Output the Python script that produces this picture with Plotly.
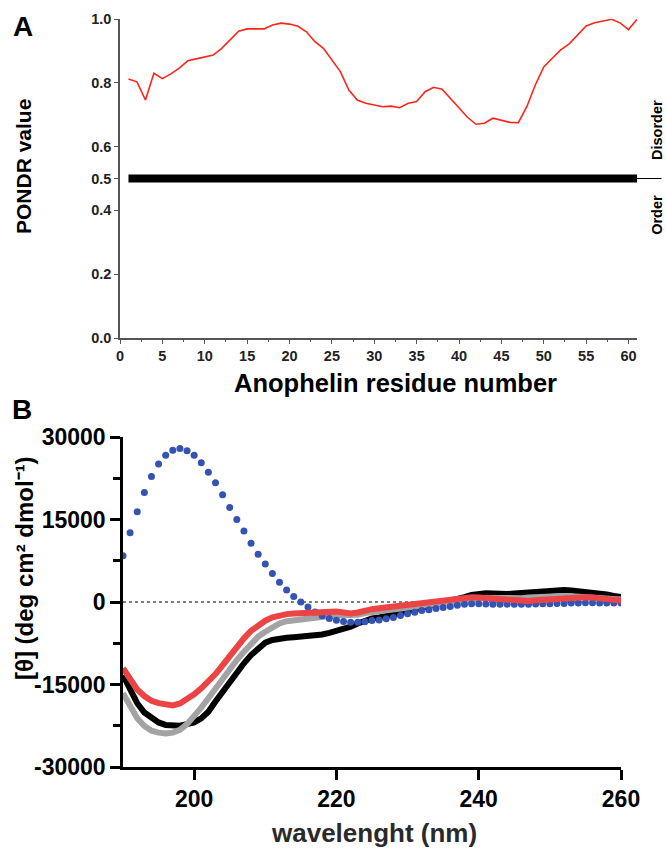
import plotly.graph_objects as go

# ---------------- Panel A data (PONDR) ----------------
residues = list(range(1, 62))
pondr = [0.812, 0.803, 0.746, 0.830, 0.813, 0.828, 0.846, 0.869, 0.875, 0.880,
         0.887, 0.908, 0.936, 0.962, 0.969, 0.969, 0.969, 0.981, 0.987, 0.984,
         0.977, 0.960, 0.929, 0.908, 0.871, 0.835, 0.777, 0.746, 0.736, 0.730,
         0.725, 0.727, 0.722, 0.736, 0.741, 0.772, 0.786, 0.780, 0.751, 0.720,
         0.692, 0.670, 0.673, 0.689, 0.683, 0.676, 0.675, 0.725, 0.793, 0.850,
         0.877, 0.903, 0.922, 0.950, 0.978, 0.988, 0.994, 0.999, 0.988, 0.967,
         0.999]
threshold_x = [1, 61]
threshold_y = [0.5, 0.5]
a_yticks = [0.0, 0.2, 0.4, 0.5, 0.6, 0.8, 1.0]
a_yticktext = ["0.0", "0.2", "0.4", "0.5", "0.6", "0.8", "1.0"]
a_xticks = list(range(0, 61, 5))

# ---------------- Panel B data (CD spectra) ----------------
wavelength = list(range(190, 261))
cd_blue = [8400, 12600, 16400, 19900, 22800, 25100, 26700, 27600, 27900, 27500,
           26700, 25300, 23600, 21700, 19500, 17200, 15000, 12900, 10700, 8700,
           6900, 5200, 3600, 2200, 1000, 0, -900, -1800, -2500, -3000,
           -3300, -3550, -3700, -3700, -3600, -3350, -3250, -3050, -2800, -2450,
           -2150, -1850, -1550, -1400, -1200, -1000, -800, -600, -400, -300,
           -300, -350, -400, -400, -400, -400, -400, -400, -350, -300,
           -300, -250, -250, -200, -200, -150, -150, -200, -200, -200,
           -180]
cd_black = [-13300, -16000, -18400, -20100, -21100, -21900, -22350, -22550, -22500, -22200,
            -21900, -21150, -19950, -18100, -16300, -14500, -12700, -11150, -9650, -8400,
            -7400, -6900, -6600, -6500, -6400, -6300, -6250, -6100, -5900, -5600,
            -5300, -4900, -4500, -3900, -3300, -3000, -2800, -2600, -2300, -2000,
            -1700, -1400, -1100, -800, -500, -200, 200, 500, 900, 1300,
            1550, 1600, 1550, 1450, 1450, 1550, 1650, 1750, 1900, 2050,
            2200, 2250, 2200, 2100, 2000, 1850, 1700, 1500, 1350, 1100,
            900]
cd_gray = [-16600, -19000, -21150, -22550, -23400, -23750, -23900, -23750, -23250, -22200,
           -20850, -19200, -17500, -15700, -14000, -12250, -10550, -9050, -7500, -6300,
           -5400, -4500, -3900, -3500, -3300, -3150, -3000, -2800, -2650, -2550,
           -2450, -2450, -2500, -2300, -2000, -1800, -1600, -1450, -1300, -1150,
           -1000, -850, -700, -550, -400, -200, 0, 250, 450, 600,
           700, 750, 750, 700, 650, 650, 700, 800, 900, 1000,
           1050, 1100, 1100, 1050, 1000, 950, 850, 750, 650, 550,
           450]
cd_red = [-12050, -14200, -15900, -17100, -17950, -18400, -18700, -18800, -18450, -17700,
          -16800, -15700, -14500, -13100, -11500, -9800, -8100, -6600, -5250, -4200,
          -3400, -2800, -2400, -2200, -2100, -2050, -2000, -1850, -1700, -1700,
          -1750, -1900, -2100, -1900, -1500, -1300, -1150, -1000, -850, -700,
          -550, -400, -250, -100, 150, 400, 600, 750, 850, 850,
          800, 700, 550, 450, 350, 200, 150, 200, 300, 400,
          500, 550, 650, 750, 800, 850, 800, 650, 550, 400,
          250]
b_yticks = [-30000, -15000, 0, 15000, 30000]
b_yticktext = ["-30000", "-15000", "0", "15000", "30000"]
b_xticks = [200, 220, 240, 260]

W, H = 666, 851
FONT = "Liberation Sans, Arial, Helvetica, sans-serif"


def px(x):
    return x / W


def py(y):
    return 1 - y / H


fig = go.Figure()

# Panel A
fig.add_trace(go.Scatter(x=threshold_x, y=threshold_y, mode="lines",
                         line=dict(color="black", width=8),
                         xaxis="x", yaxis="y", showlegend=False, hoverinfo="skip"))
fig.add_trace(go.Scatter(x=residues, y=pondr, mode="lines",
                         line=dict(color="#ff2419", width=1.6),
                         xaxis="x", yaxis="y", showlegend=False))

# Panel B
fig.add_trace(go.Scatter(x=[wavelength[0], wavelength[-1]], y=[0, 0], mode="lines",
                         line=dict(color="black", width=1.2, dash="dot"),
                         xaxis="x2", yaxis="y2", showlegend=False, hoverinfo="skip"))
fig.add_trace(go.Scatter(x=wavelength, y=cd_black, mode="lines",
                         line=dict(color="black", width=6),
                         xaxis="x2", yaxis="y2", showlegend=False))
fig.add_trace(go.Scatter(x=wavelength, y=cd_gray, mode="lines",
                         line=dict(color="#a3a3a6", width=6),
                         xaxis="x2", yaxis="y2", showlegend=False))
fig.add_trace(go.Scatter(x=wavelength, y=cd_blue, mode="markers",
                         marker=dict(color="#3553b3", size=7),
                         xaxis="x2", yaxis="y2", showlegend=False))
fig.add_trace(go.Scatter(x=wavelength, y=cd_red, mode="lines",
                         line=dict(color="#ec4444", width=6),
                         xaxis="x2", yaxis="y2", showlegend=False))

axA = dict(showline=True, linecolor="#555555", linewidth=1.5, showgrid=False, zeroline=False,
           ticks="outside", ticklen=4, tickwidth=1.2, tickcolor="#555555",
           tickfont=dict(family=FONT, size=14.5, color="#222222", weight="bold"),
           automargin=False, layer="above traces")
axB = dict(showline=True, linecolor="black", linewidth=2.5, showgrid=False, zeroline=False,
           ticks="outside", ticklen=10, tickwidth=2.5, tickcolor="black",
           tickfont=dict(family=FONT, size=23, color="black", weight="bold"),
           automargin=False, layer="above traces")

fig.update_layout(
    width=W, height=H,
    margin=dict(l=0, r=0, t=0, b=0, pad=0),
    paper_bgcolor="white", plot_bgcolor="white",
    xaxis=dict(axA, domain=[px(120), px(637)], range=[0, 61], anchor="y",
               tickvals=a_xticks,
               minor=dict(dtick=2.5, tick0=0, ticks="outside", ticklen=2.5,
                          tickcolor="#555555", tickwidth=1)),
    yaxis=dict(axA, domain=[py(338), py(19)], range=[0, 1.0], anchor="x",
               tickvals=a_yticks, ticktext=a_yticktext),
    xaxis2=dict(axB, domain=[px(123), px(621)], range=[190, 260], anchor="y2",
                tickvals=b_xticks),
    yaxis2=dict(axB, domain=[py(767), py(437)], range=[-30000, 30000], anchor="x2",
                tickvals=b_yticks, ticktext=b_yticktext,
                minor=dict(dtick=7500, tick0=0, ticks="outside", ticklen=7,
                           tickcolor="black", tickwidth=2.5)),
)


def label(x, y, text, size, angle=0, color="black", xref="paper", yref="paper"):
    return dict(x=x, y=y, xref=xref, yref=yref, text=text, showarrow=False,
                textangle=angle, xanchor="center", yanchor="middle", borderpad=0,
                font=dict(family=FONT, size=size, color=color))


ann = []
# threshold extension beyond the axis end
ann.append(dict(x=61, y=0.5, xref="x", yref="y", ax=26, ay=0, text="",
                showarrow=True, arrowhead=0, arrowwidth=1.2, arrowcolor="black",
                standoff=0, startstandoff=0))
ann.append(label(px(657), 0.652, "<b>Disorder</b>", 14.5, -90, yref="y"))
ann.append(label(px(657), 0.386, "<b>Order</b>", 14.5, -90, yref="y"))
# panel letters
ann.append(label(px(23), py(27), "<b>A</b>", 28))
ann.append(label(px(22), py(409), "<b>B</b>", 28))
# axis titles
ann.append(label(px(23), py(167), "<b>PONDR value</b>", 21, -90))
ann.append(label(px(395), py(383), "<b>Anophelin residue number</b>", 25.5))
ann.append(label(px(24), py(568), "<b>[θ] (deg cm² dmol⁻¹)</b>", 24, -90))
ann.append(label(px(374), py(833), "<b>wavelenght (nm)</b>", 26, color="#2a2a2a"))
fig.update_layout(annotations=ann)

fig.write_html("out.html", config={"displayModeBar": False},
               post_script="document.body.style.margin='0';document.body.style.overflow='hidden';")
